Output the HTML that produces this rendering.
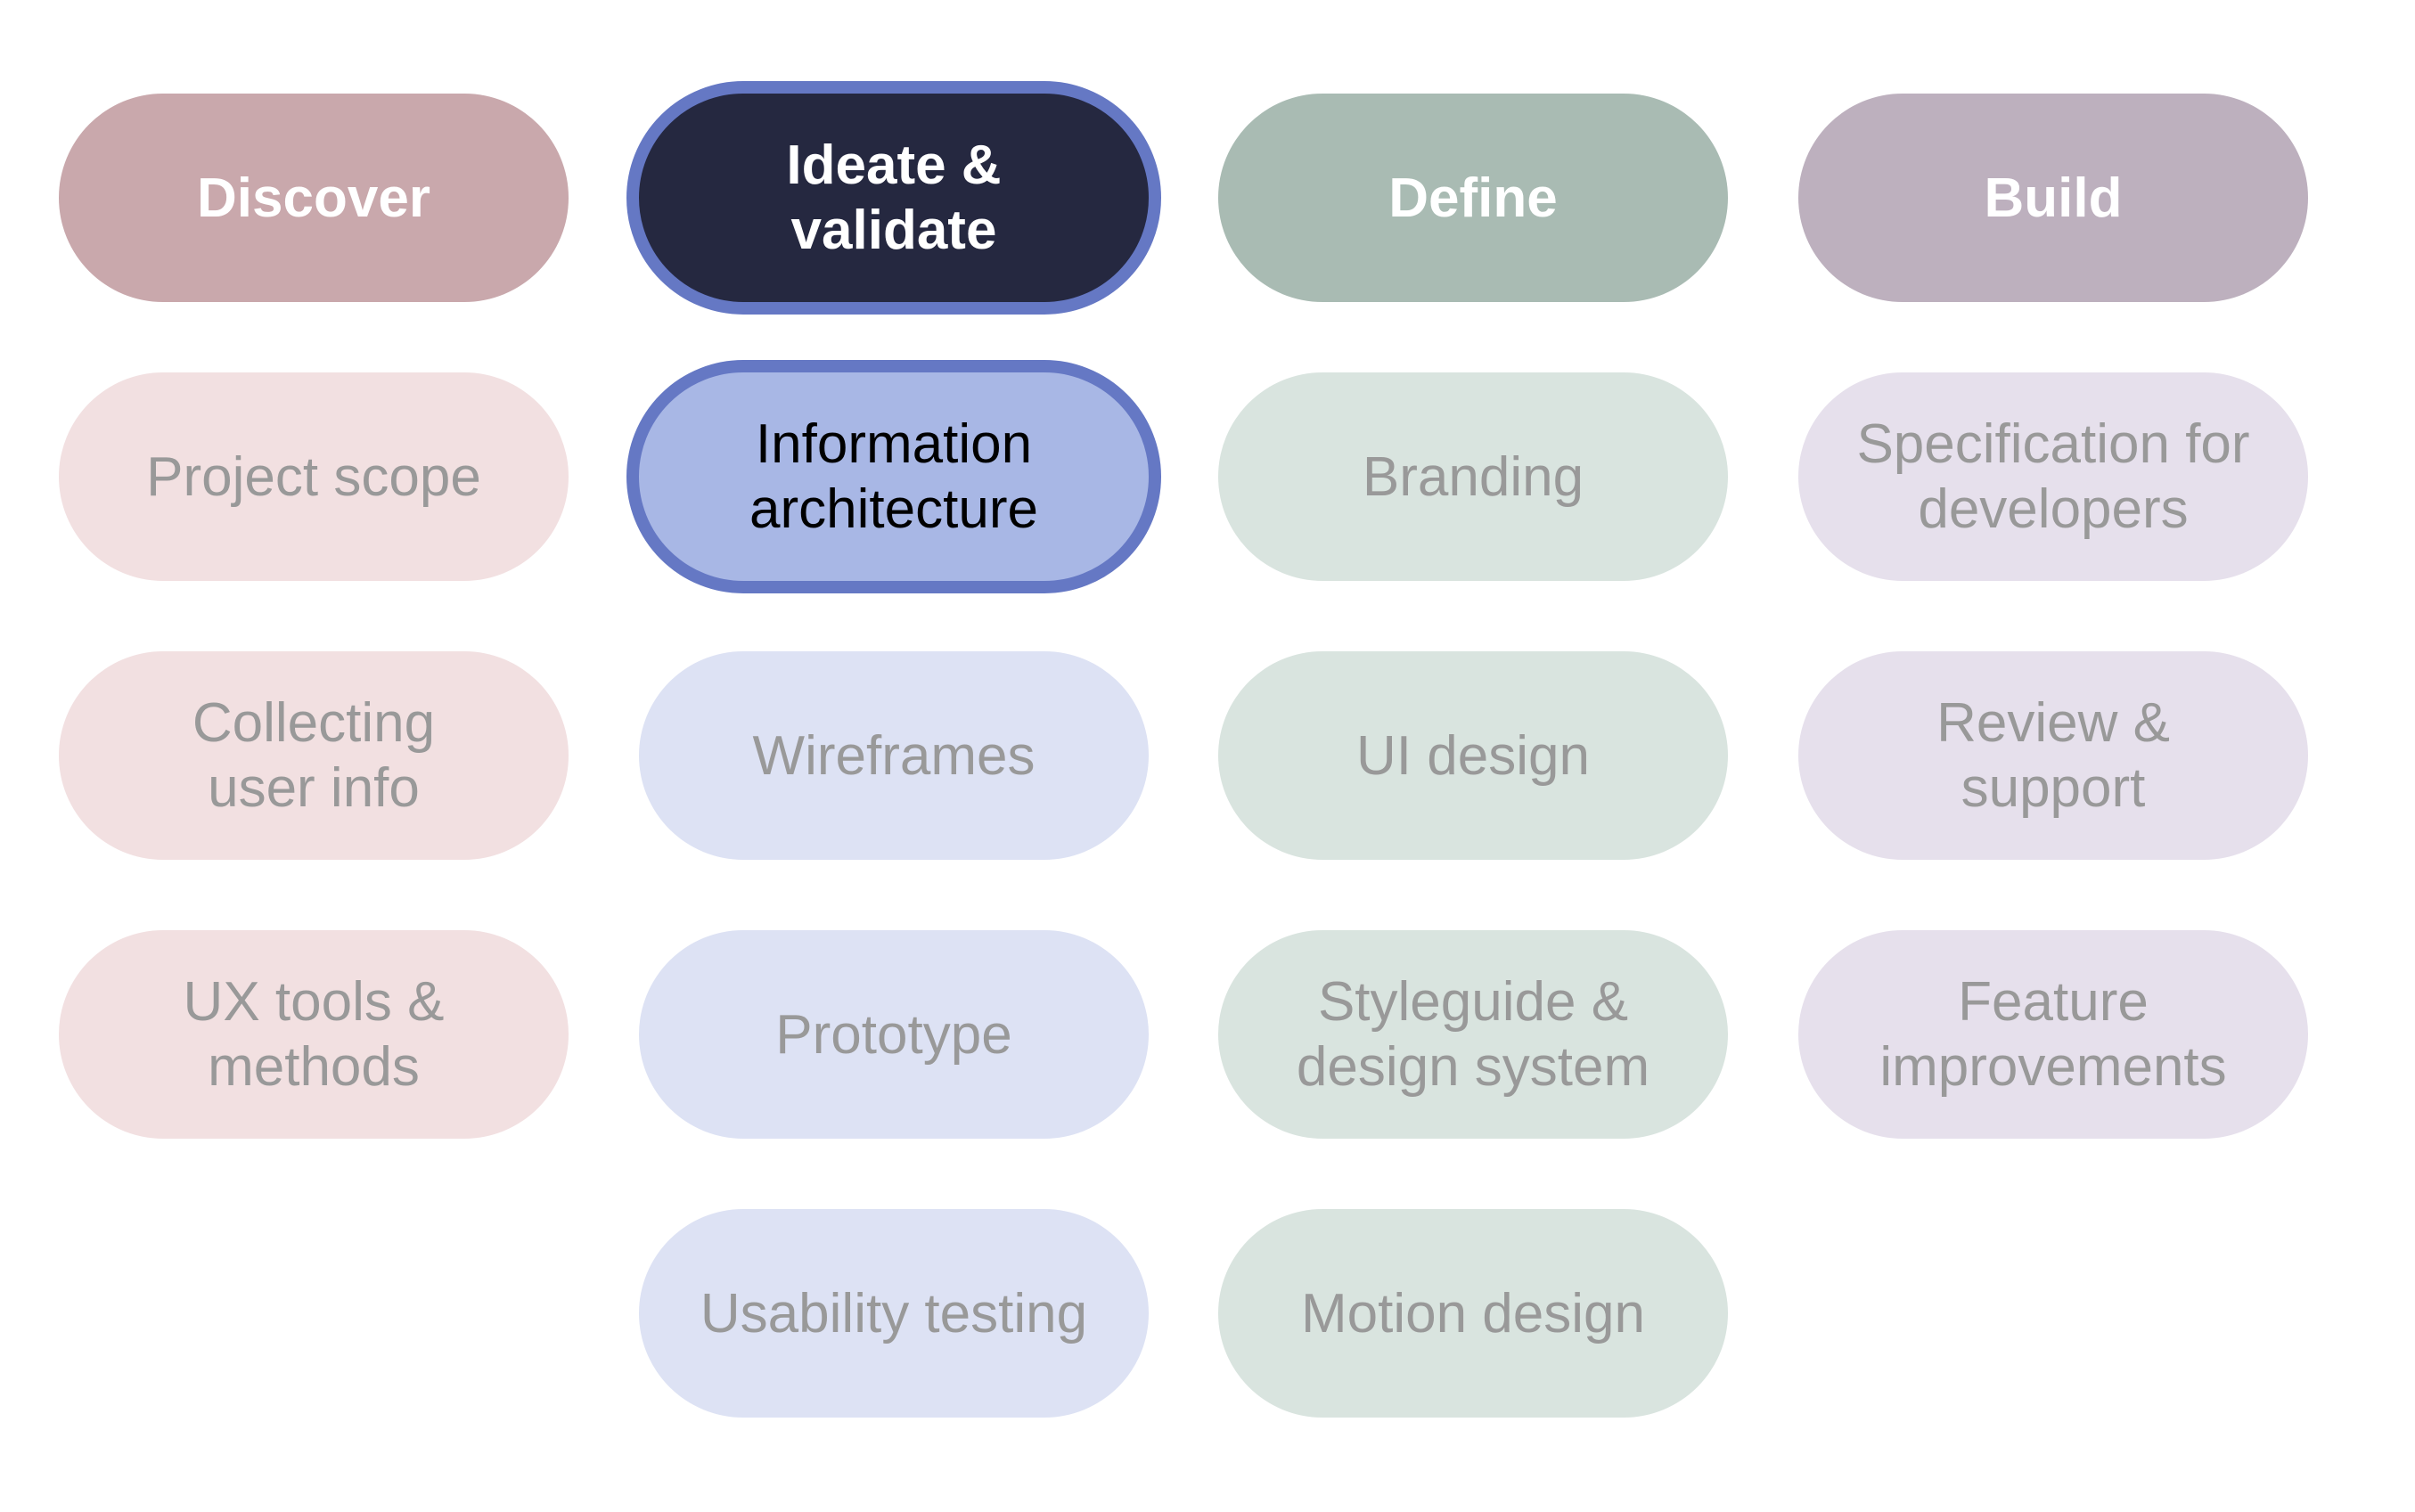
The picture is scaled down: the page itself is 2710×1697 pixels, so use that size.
<!DOCTYPE html>
<html><head><style>
html,body{margin:0;padding:0;background:#fff;}
body{width:2710px;height:1697px;position:relative;overflow:hidden;font-family:"Liberation Sans",Arial,sans-serif;}
.p{position:absolute;width:572px;height:234px;border-radius:117px;display:flex;align-items:center;justify-content:center;text-align:center;font-size:62px;line-height:73px;color:#999;box-sizing:border-box;}
.h{font-weight:bold;color:#fff;}
.c1{left:66px}.c2{left:717px}.c3{left:1367px}.c4{left:2018px}
.r1{top:105px}.r2{top:418px}.r3{top:731px}.r4{top:1044px}.r5{top:1357px}
.sel{border:14px solid #6578c4;width:600px;height:262px;margin:-14px 0 0 -14px;border-radius:131px;}
</style></head><body>
<div class="p h c1 r1" style="background:#c9a8ac">Discover</div>
<div class="p h c2 r1 sel" style="background:#252840">Ideate &amp;<br>validate</div>
<div class="p h c3 r1" style="background:#a9bbb3">Define</div>
<div class="p h c4 r1" style="background:#bdb0be">Build</div>

<div class="p c1 r2" style="background:#f2e0e1">Project scope</div>
<div class="p c1 r3" style="background:#f2e0e1">Collecting<br>user info</div>
<div class="p c1 r4" style="background:#f2e0e1">UX tools &amp;<br>methods</div>

<div class="p c2 r2 sel" style="background:#a8b7e5;color:#000">Information<br>architecture</div>
<div class="p c2 r3" style="background:#dde2f4">Wireframes</div>
<div class="p c2 r4" style="background:#dde2f4">Prototype</div>
<div class="p c2 r5" style="background:#dde2f4">Usability testing</div>

<div class="p c3 r2" style="background:#d9e4df">Branding</div>
<div class="p c3 r3" style="background:#d9e4df">UI design</div>
<div class="p c3 r4" style="background:#d9e4df">Styleguide &amp;<br>design system</div>
<div class="p c3 r5" style="background:#d9e4df">Motion design</div>

<div class="p c4 r2" style="background:#e6e0ec">Specification for<br>developers</div>
<div class="p c4 r3" style="background:#e6e0ec">Review &amp;<br>support</div>
<div class="p c4 r4" style="background:#e6e0ec">Feature<br>improvements</div>
</body></html>
